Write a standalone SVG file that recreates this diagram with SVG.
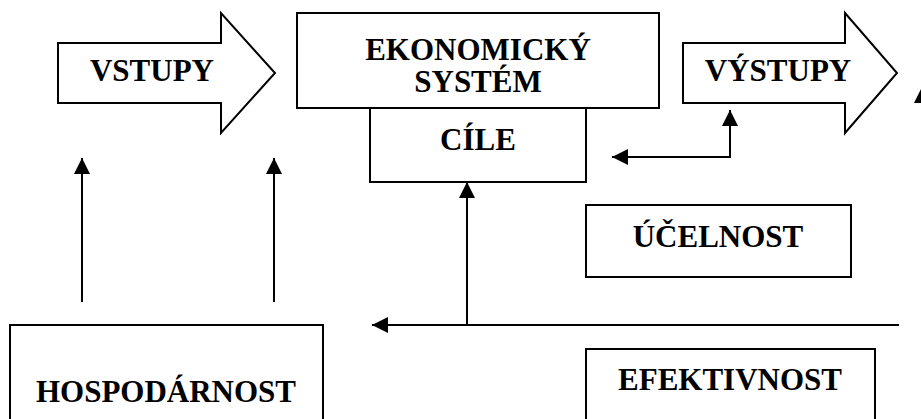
<svg xmlns="http://www.w3.org/2000/svg" width="921" height="419" viewBox="0 0 921 419">
<style>
.box{fill:#fff;stroke:#000;stroke-width:2}
.t{font-family:"Liberation Serif","Times New Roman",serif;font-weight:bold;font-size:31px;fill:#000;text-anchor:middle}
.ln{fill:none;stroke:#000;stroke-width:2}
</style>
<defs>
<marker id="ah" viewBox="0 0 10 10" refX="10" refY="5" markerWidth="8" markerHeight="8" orient="auto" markerUnits="strokeWidth">
<path d="M0,0 L10,5 L0,10 Z" fill="#000"/>
</marker>
</defs>
<rect width="921" height="419" fill="#fff"/>
<g id="vstupy">
<polygon class="box" points="58,43 221,43 221,13 275,73 221,133 221,103 58,103"/>
<text class="t" x="152" y="81">VSTUPY</text>
</g>
<g id="ekonomicky-system">
<rect class="box" x="297" y="13" width="362" height="95"/>
<text class="t" x="478" y="60">EKONOMICKÝ</text>
<text class="t" x="478" y="92">SYSTÉM</text>
</g>
<g id="cile">
<rect class="box" x="370" y="108" width="216" height="74"/>
<text class="t" x="478" y="150">CÍLE</text>
</g>
<g id="vystupy">
<polygon class="box" points="683,43 845,43 845,13 897,73 845,133 845,103 683,103"/>
<text class="t" x="778" y="81">VÝSTUPY</text>
</g>
<g id="ucelnost">
<rect class="box" x="586" y="205" width="265" height="72"/>
<text class="t" x="718" y="247">ÚČELNOST</text>
</g>
<g id="hospodarnost">
<rect class="box" x="10" y="325" width="313" height="110"/>
<text class="t" x="166" y="402">HOSPODÁRNOST</text>
</g>
<g id="efektivnost">
<rect class="box" x="586" y="349" width="289" height="90"/>
<text class="t" x="730" y="390">EFEKTIVNOST</text>
</g>
<g id="connectors">
<line class="ln" x1="82" y1="302" x2="82" y2="158" marker-end="url(#ah)"/>
<line class="ln" x1="274" y1="302" x2="274" y2="158" marker-end="url(#ah)"/>
<line class="ln" x1="899" y1="325" x2="372" y2="325" marker-end="url(#ah)"/>
<line class="ln" x1="467" y1="325" x2="467" y2="182" marker-end="url(#ah)"/>
<polyline class="ln" points="730,157 730,110" marker-end="url(#ah)"/>
<line class="ln" x1="731" y1="157" x2="612" y2="157" marker-end="url(#ah)"/>
<polygon points="914,103 921,89 928,103" fill="#000"/>
</g>
</svg>
